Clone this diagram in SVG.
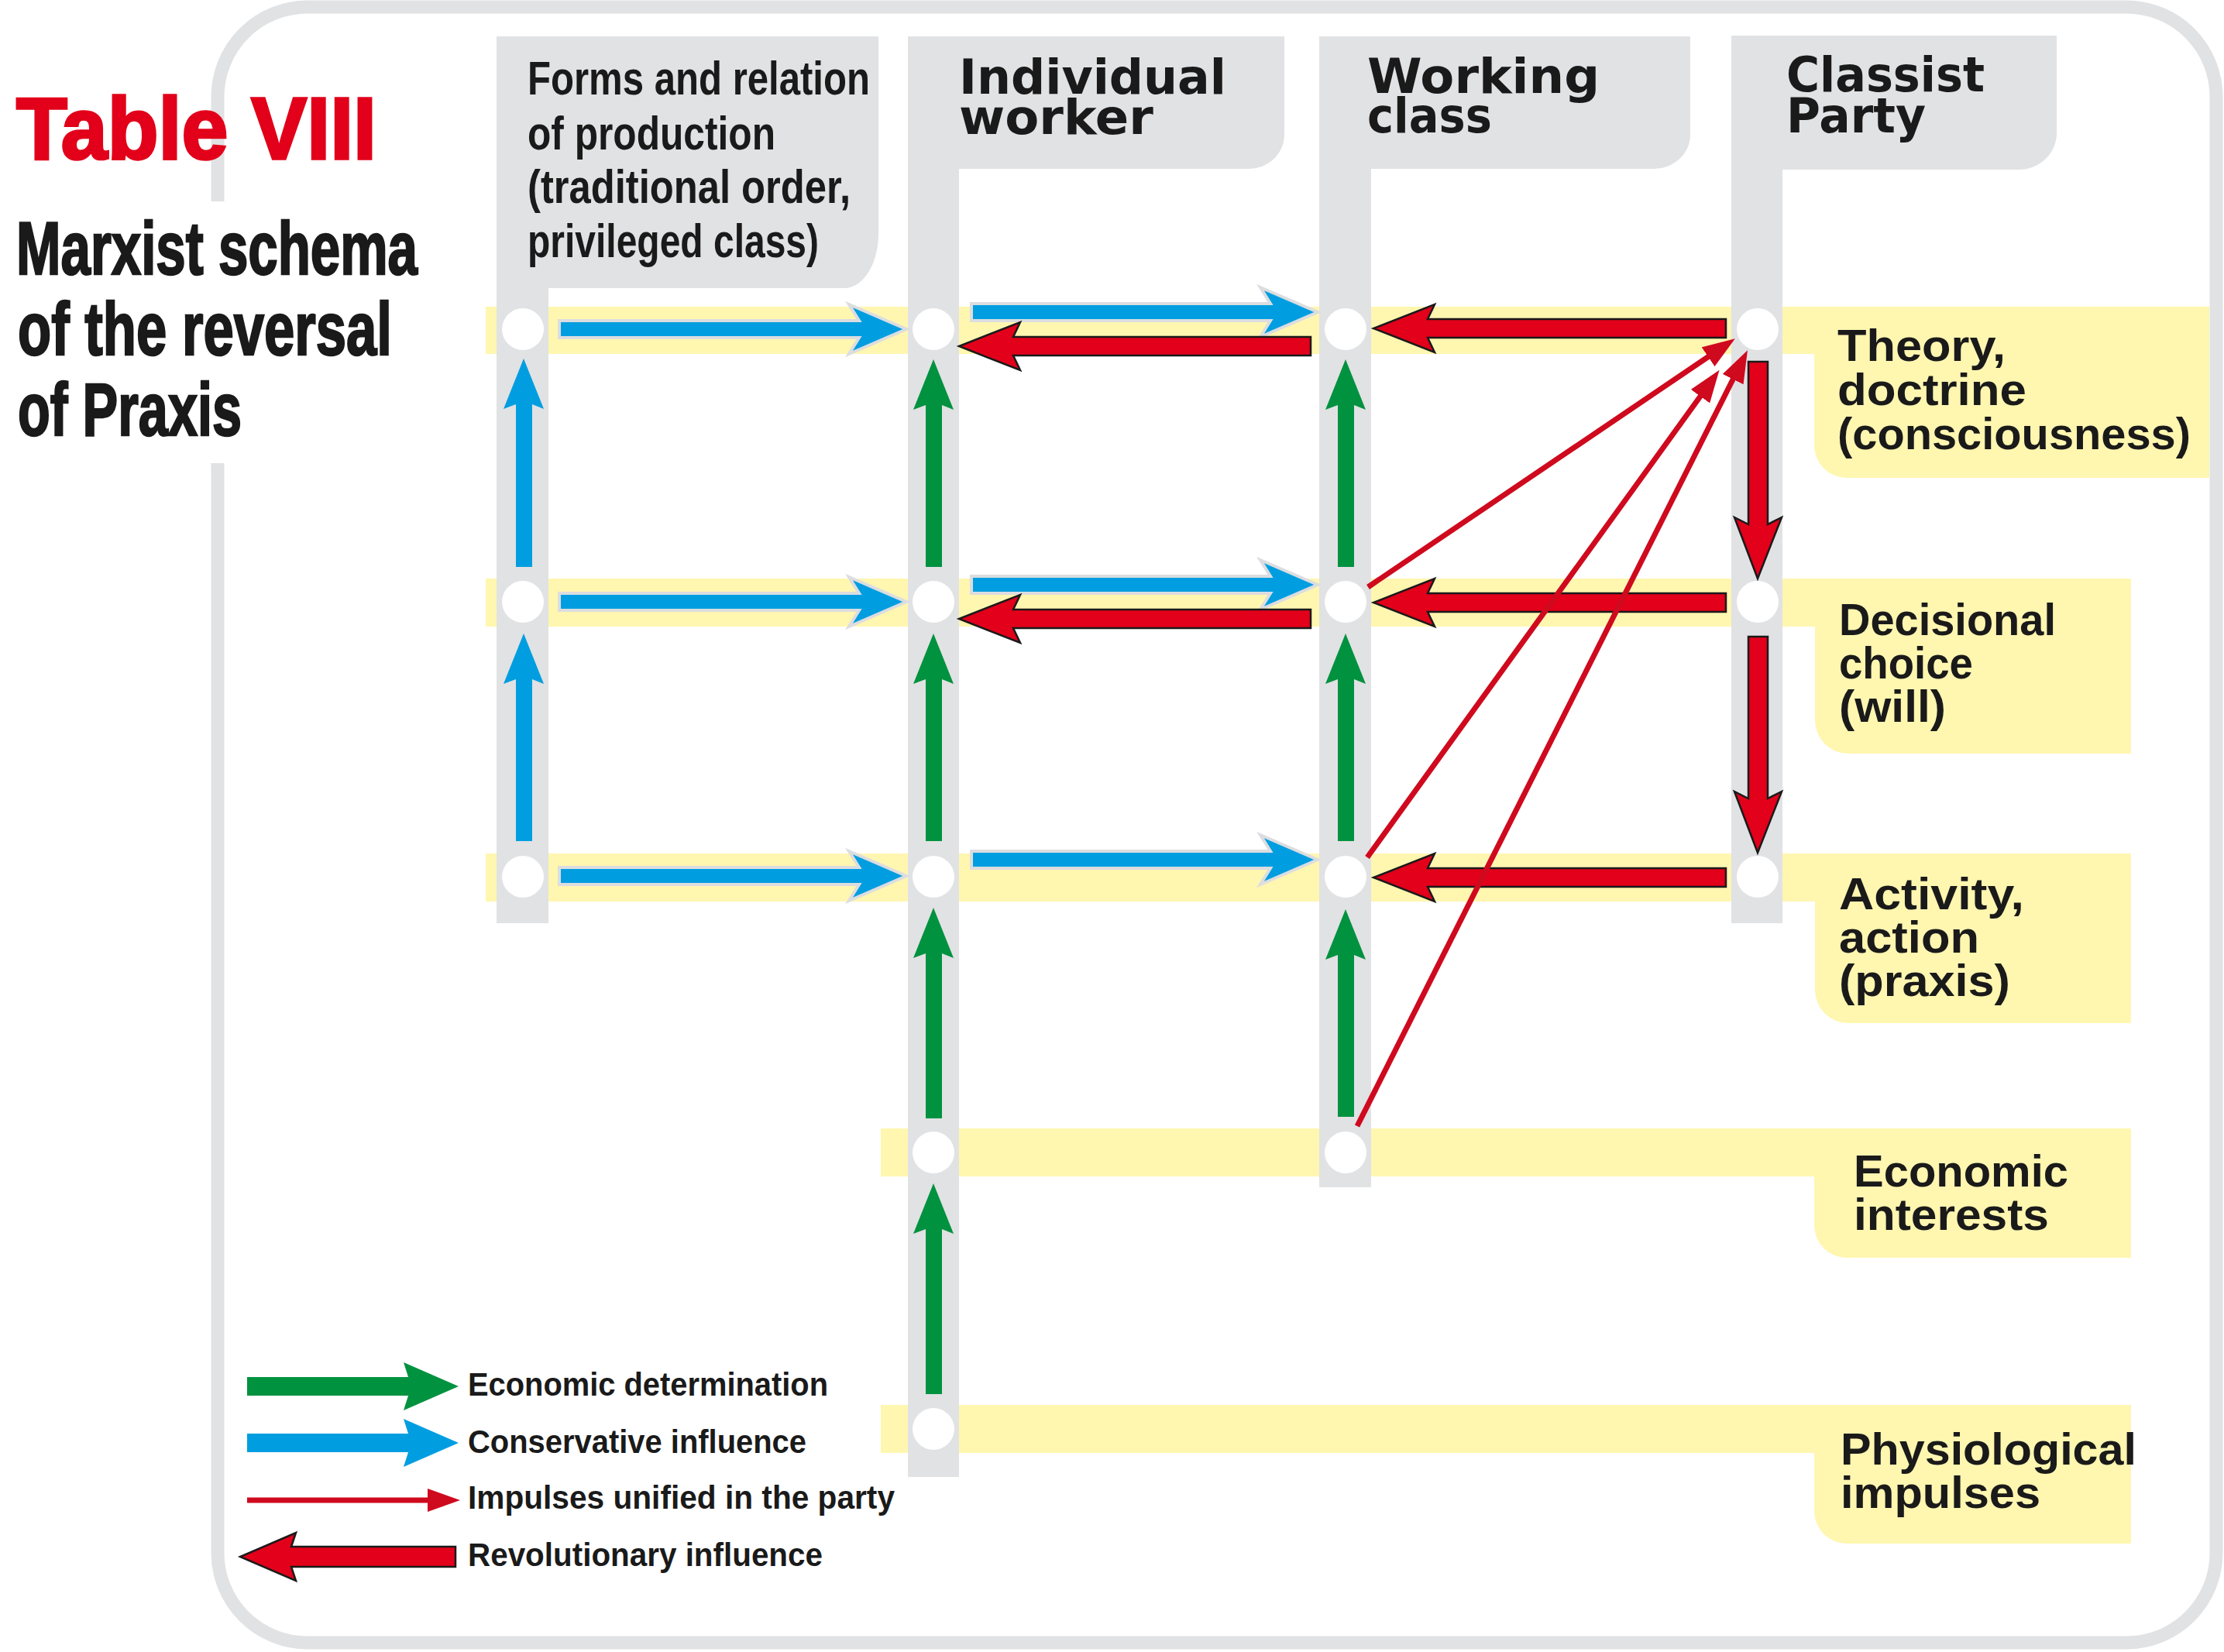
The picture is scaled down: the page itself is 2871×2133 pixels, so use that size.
<svg xmlns="http://www.w3.org/2000/svg" width="2871" height="2133" viewBox="0 0 2871 2133">
<defs>
<style>
.bar{fill:#e1e2e4}
.band{fill:#fff6b0}
.node{fill:#ffffff}
.blue{fill:#009ee0;stroke:#dcdde0;stroke-width:4;stroke-linejoin:miter}
.bluev{fill:#009ee0}
.green{fill:#00923f}
.red{fill:#e2001a;stroke:#1a1a1a;stroke-width:2.5;stroke-linejoin:miter}
.thin{stroke:#cf0a1e;stroke-width:7;fill:none;marker-end:url(#thinHead)}
.hdr{font-family:"Liberation Sans",Arial,sans-serif;font-weight:bold;font-size:62px;fill:#1a1a1a}
.hdrw{font-family:"DejaVu Sans","Liberation Sans",sans-serif;font-weight:bold;font-size:62px;fill:#1a1a1a}
.lbl{font-family:"Liberation Sans",Arial,sans-serif;font-weight:bold;font-size:58px;fill:#1a1a1a}
.leg{font-family:"Liberation Sans",Arial,sans-serif;font-weight:bold;font-size:42px;fill:#1a1a1a}
.ttl{font-family:"Liberation Sans",Arial,sans-serif;font-weight:bold;font-size:113px;fill:#e2001a;stroke:#e2001a;stroke-width:3.5}
.sub{font-family:"Liberation Sans",Arial,sans-serif;font-weight:bold;font-size:97px;fill:#1a1a1a;stroke:#1a1a1a;stroke-width:2.5}
</style>
<marker id="thinHead" markerUnits="userSpaceOnUse" viewBox="0 0 42 30" markerWidth="42" markerHeight="30" refX="12" refY="15" orient="auto">
<path d="M0,0 L42,15 L0,30 Z" fill="#cf0a1e"/>
</marker>
</defs>
<rect width="2871" height="2133" fill="#ffffff"/>

<g id="frame">
<rect x="281" y="9" width="2580" height="2112" rx="116" ry="116" fill="none" stroke="#e1e2e4" stroke-width="17"/>
<rect x="268" y="260" width="28" height="338" fill="#ffffff"/>
</g>

<g id="title">
<text class="ttl" x="21" y="205" textLength="465" lengthAdjust="spacingAndGlyphs">Table VIII</text>
<text class="sub" x="21" y="354" textLength="518" lengthAdjust="spacingAndGlyphs">Marxist schema</text>
<text class="sub" x="23" y="458" textLength="483" lengthAdjust="spacingAndGlyphs">of the reversal</text>
<text class="sub" x="23" y="562" textLength="289" lengthAdjust="spacingAndGlyphs">of Praxis</text>
</g>

<g id="rows">
<g id="row-theory">
<path class="band" d="M627,396 H2852 V617 H2384 A42,42 0 0 1 2342,575 V457 H627 Z"/>
<text class="lbl" x="2372" y="466" textLength="217" lengthAdjust="spacingAndGlyphs">Theory,</text>
<text class="lbl" x="2372" y="523" textLength="244" lengthAdjust="spacingAndGlyphs">doctrine</text>
<text class="lbl" x="2372" y="580" textLength="456" lengthAdjust="spacingAndGlyphs">(consciousness)</text>
</g>
<g id="row-decision">
<path class="band" d="M627,747 H2751 V973 H2386 A43,43 0 0 1 2343,930 V809 H627 Z"/>
<text class="lbl" x="2374" y="820" textLength="280" lengthAdjust="spacingAndGlyphs">Decisional</text>
<text class="lbl" x="2374" y="876" textLength="173" lengthAdjust="spacingAndGlyphs">choice</text>
<text class="lbl" x="2374" y="932" textLength="138" lengthAdjust="spacingAndGlyphs">(will)</text>
</g>
<g id="row-activity">
<path class="band" d="M627,1102 H2751 V1321 H2386 A43,43 0 0 1 2343,1278 V1164 H627 Z"/>
<text class="lbl" x="2374" y="1174" textLength="239" lengthAdjust="spacingAndGlyphs">Activity,</text>
<text class="lbl" x="2374" y="1230" textLength="181" lengthAdjust="spacingAndGlyphs">action</text>
<text class="lbl" x="2374" y="1286" textLength="221" lengthAdjust="spacingAndGlyphs">(praxis)</text>
</g>
<g id="row-economic">
<path class="band" d="M1137,1457 H2751 V1624 H2384 A42,42 0 0 1 2342,1582 V1519 H1137 Z"/>
<text class="lbl" x="2393" y="1532" textLength="277" lengthAdjust="spacingAndGlyphs">Economic</text>
<text class="lbl" x="2393" y="1588" textLength="252" lengthAdjust="spacingAndGlyphs">interests</text>
</g>
<g id="row-physio">
<path class="band" d="M1137,1814 H2751 V1993 H2384 A42,42 0 0 1 2342,1951 V1876 H1137 Z"/>
<text class="lbl" x="2376" y="1891" textLength="382" lengthAdjust="spacingAndGlyphs">Physiological</text>
<text class="lbl" x="2376" y="1947" textLength="258" lengthAdjust="spacingAndGlyphs">impulses</text>
</g>
</g>

<g id="columns">
<g id="col-production">
<path class="bar" d="M641,47 H1134 V302 A44,70 0 0 1 1090,372 H708 V1192 H641 Z"/>
<text class="hdr" x="681" y="122" textLength="442" lengthAdjust="spacingAndGlyphs">Forms and relation</text>
<text class="hdr" x="681" y="193" textLength="320" lengthAdjust="spacingAndGlyphs">of production</text>
<text class="hdr" x="681" y="262" textLength="417" lengthAdjust="spacingAndGlyphs">(traditional order,</text>
<text class="hdr" x="681" y="332" textLength="376" lengthAdjust="spacingAndGlyphs">privileged class)</text>
</g>
<g id="col-worker">
<path class="bar" d="M1172,47 H1658 V174 A46,44 0 0 1 1612,218 H1238 V1907 H1172 Z"/>
<text class="hdrw" x="1238" y="121" textLength="345" lengthAdjust="spacingAndGlyphs">Individual</text>
<text class="hdrw" x="1238" y="173" textLength="251" lengthAdjust="spacingAndGlyphs">worker</text>
</g>
<g id="col-class">
<path class="bar" d="M1703,47 H2182 V174 A47,44 0 0 1 2135,218 H1770 V1533 H1703 Z"/>
<text class="hdrw" x="1765" y="120" textLength="300" lengthAdjust="spacingAndGlyphs">Working</text>
<text class="hdrw" x="1765" y="171" textLength="161" lengthAdjust="spacingAndGlyphs">class</text>
</g>
<g id="col-party">
<path class="bar" d="M2235,46 H2655 V172 A49,47 0 0 1 2606,219 H2301 V1192 H2235 Z"/>
<text class="hdrw" x="2306" y="118" textLength="256" lengthAdjust="spacingAndGlyphs">Classist</text>
<text class="hdrw" x="2306" y="171" textLength="180" lengthAdjust="spacingAndGlyphs">Party</text>
</g>
</g>

<g id="nodes">
<circle id="n-prod-1" class="node" cx="675" cy="425" r="27"/>
<circle id="n-prod-2" class="node" cx="675" cy="777" r="27"/>
<circle id="n-prod-3" class="node" cx="675" cy="1132" r="27"/>
<circle id="n-work-1" class="node" cx="1205" cy="425" r="27"/>
<circle id="n-work-2" class="node" cx="1205" cy="777" r="27"/>
<circle id="n-work-3" class="node" cx="1205" cy="1132" r="27"/>
<circle id="n-work-4" class="node" cx="1205" cy="1488" r="27"/>
<circle id="n-work-5" class="node" cx="1205" cy="1845" r="27"/>
<circle id="n-class-1" class="node" cx="1737" cy="425" r="27"/>
<circle id="n-class-2" class="node" cx="1737" cy="777" r="27"/>
<circle id="n-class-3" class="node" cx="1737" cy="1132" r="27"/>
<circle id="n-class-4" class="node" cx="1737" cy="1488" r="27"/>
<circle id="n-party-1" class="node" cx="2269" cy="425" r="27"/>
<circle id="n-party-2" class="node" cx="2269" cy="777" r="27"/>
<circle id="n-party-3" class="node" cx="2269" cy="1132" r="27"/>
</g>

<g id="connectors">
<polygon class="bluev" points="666,732 666,522 650,528 676,463 702,528 687,522 687,732"/>
<polygon class="bluev" points="666,1086 666,877 650,883 676,818 702,883 687,877 687,1086"/>
<polygon class="green" points="1195,732 1195,523 1179,529 1205,464 1231,529 1216,523 1216,732"/>
<polygon class="green" points="1195,1086 1195,877 1179,883 1205,818 1231,883 1216,877 1216,1086"/>
<polygon class="green" points="1195,1444 1195,1231 1179,1237 1205,1172 1231,1237 1216,1231 1216,1444"/>
<polygon class="green" points="1195,1800 1195,1587 1179,1593 1205,1528 1231,1593 1216,1587 1216,1800"/>
<polygon class="green" points="1727,732 1727,523 1711,529 1737,464 1763,529 1748,523 1748,732"/>
<polygon class="green" points="1727,1086 1727,877 1711,883 1737,818 1763,883 1748,877 1748,1086"/>
<polygon class="green" points="1727,1442 1727,1233 1711,1239 1737,1174 1763,1239 1748,1233 1748,1442"/>
<polygon class="blue" points="722,414 1109,414 1096,393 1170,425 1096,457 1109,436 722,436"/>
<polygon class="blue" points="722,766 1109,766 1096,745 1170,777 1096,809 1109,788 722,788"/>
<polygon class="blue" points="722,1120 1109,1120 1096,1099 1170,1131 1096,1163 1109,1142 722,1142"/>
<polygon class="blue" points="1254,392 1640,392 1627,371 1701,403 1627,435 1640,414 1254,414"/>
<polygon class="blue" points="1254,744 1640,744 1627,723 1701,755 1627,787 1640,766 1254,766"/>
<polygon class="blue" points="1254,1099 1640,1099 1627,1078 1701,1110 1627,1142 1640,1121 1254,1121"/>
<polygon class="red" points="1692,435 1308,435 1317,416 1238,447 1317,478 1308,459 1692,459"/>
<polygon class="red" points="1692,787 1308,787 1317,768 1238,799 1317,830 1308,811 1692,811"/>
<polygon class="red" points="2228,412 1843,412 1852,393 1773,424 1852,455 1843,436 2228,436"/>
<polygon class="red" points="2228,766 1843,766 1852,747 1773,778 1852,809 1843,790 2228,790"/>
<polygon class="red" points="2228,1121 1843,1121 1852,1102 1773,1133 1852,1164 1843,1145 2228,1145"/>
<polygon class="red" points="2257,467 2282,467 2282,677 2300,668 2269,747 2239,668 2257,677"/>
<polygon class="red" points="2257,822 2282,822 2282,1031 2300,1022 2269,1101 2239,1022 2257,1031"/>
<line class="thin" x1="1766" y1="758" x2="2215" y2="454"/>
<line class="thin" x1="1765" y1="1107" x2="2202" y2="502"/>
<line class="thin" x1="1752" y1="1454" x2="2242.5" y2="479"/>
</g>

<g id="legend">
<polygon class="green" points="319,1778 527,1778 521,1759 592,1790 521,1821 527,1802 319,1802"/>
<text class="leg" x="604" y="1802" textLength="465" lengthAdjust="spacingAndGlyphs">Economic determination</text>
<polygon fill="#009ee0" points="319,1851 527,1851 521,1832 592,1863 521,1894 527,1875 319,1875"/>
<text class="leg" x="604" y="1876" textLength="437" lengthAdjust="spacingAndGlyphs">Conservative influence</text>
<line class="thin" x1="319" y1="1937" x2="564" y2="1937"/>
<text class="leg" x="604" y="1948" textLength="551" lengthAdjust="spacingAndGlyphs">Impulses unified in the party</text>
<polygon class="red" points="588,1997 376,1997 382,1979 310,2010 382,2041 376,2023 588,2023"/>
<text class="leg" x="604" y="2022" textLength="458" lengthAdjust="spacingAndGlyphs">Revolutionary influence</text>
</g>
</svg>
